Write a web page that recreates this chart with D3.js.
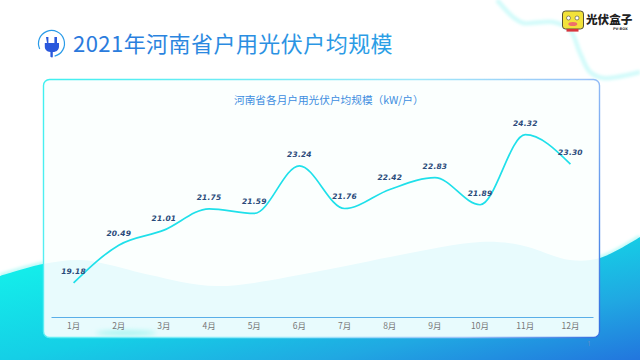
<!DOCTYPE html>
<html><head><meta charset="utf-8">
<script src="https://cdnjs.cloudflare.com/ajax/libs/d3/7.8.5/d3.min.js"></script>
<style>html,body{margin:0;padding:0;background:#fff;overflow:hidden}svg{display:block}</style>
</head><body><svg id="c" width="640" height="360"></svg>
<script>
const months = ["1月","2月","3月","4月","5月","6月","7月","8月","9月","10月","11月","12月"];
const values = [19.18,20.49,21.01,21.75,21.59,23.24,21.76,22.42,22.83,21.89,24.32,23.30];
const valueLabels = ["19.18","20.49","21.01","21.75","21.59","23.24","21.76","22.42","22.83","21.89","24.32","23.30"];
const titleText = "2021年河南省户用光伏户均规模";
const subtitleText = "河南省各月户用光伏户均规模（kW/户）";

const svg = d3.select("#c");
const cjk = "'Noto Sans CJK SC','Noto Sans',sans-serif";
const defs = svg.append("defs");
function grad(id, x1,y1,x2,y2, stops){
  const g = defs.append("linearGradient").attr("id",id).attr("gradientUnits","userSpaceOnUse")
    .attr("x1",x1).attr("y1",y1).attr("x2",x2).attr("y2",y2);
  stops.forEach(s=>g.append("stop").attr("offset",s[0]).attr("stop-color",s[1]));
}
grad("wave",0,276,41,480,[[0,"#14ecea"],[0.4,"#15cfe6"],[0.7,"#20a8e2"],[1,"#2276de"]]);
grad("border",43,79,600,338,[[0,"#3ff0f0"],[0.55,"#9fe8fa"],[0.8,"#9cc4f8"],[1,"#2f6fe0"]]);
grad("titleG",73,0,393,0,[[0,"#2a78dc"],[1,"#2ba0e6"]]);
grad("iconG",40,30,60,60,[[0,"#2a9be8"],[1,"#2a4fd8"]]);
defs.append("filter").attr("id","blur3").attr("x","-30%").attr("y","-200%").attr("width","160%").attr("height","500%")
  .append("feGaussianBlur").attr("stdDeviation",2.5);
defs.append("filter").attr("id","blur1").attr("filterUnits","userSpaceOnUse").attr("x",0).attr("y",0).attr("width",640).attr("height",360)
  .append("feGaussianBlur").attr("stdDeviation",1.4);
defs.append("clipPath").attr("id","cardClip").append("rect").attr("x",43.5).attr("y",79.5).attr("width",556).attr("height",258).attr("rx",6);

// background shapes
const area = d3.line().curve(d3.curveCatmullRom.alpha(0.5));
const waveEdge = [[0,276],[43,264],[80,260],[110,265],[150,275],[217,286],[320,271],[400,255],[480,242],[520,245],[570,260],[600,258],[640,237]];
const waveD = area(waveEdge)+"L640,360L0,360Z";
svg.append("path").attr("d",area(waveEdge)).attr("fill","none").attr("stroke","#c4fbf8").attr("stroke-width",5).attr("filter","url(#blur1)");
svg.append("path").attr("d",waveD).attr("fill","url(#wave)");
const ribbonEdge = [[497,0],[513,17],[523,23],[553,22],[570,30],[580,53],[590,72],[603,78],[640,72]];
svg.append("path").attr("d",area(ribbonEdge)).attr("fill","none").attr("stroke","#d2fbfa").attr("stroke-width",4.5).attr("filter","url(#blur1)");

// card
svg.append("rect").attr("x",43.5).attr("y",79.5).attr("width",556).attr("height",258).attr("rx",6).attr("fill","#fbfffe");
svg.append("path").attr("d",waveD).attr("fill","#e8fbfd").attr("clip-path","url(#cardClip)");
svg.append("ellipse").attr("cx",126).attr("cy",333).attr("rx",30).attr("ry",2.5).attr("fill","#a5f5f0").attr("filter","url(#blur3)").attr("clip-path","url(#cardClip)");
svg.append("rect").attr("x",43.5).attr("y",79.5).attr("width",556).attr("height",258).attr("rx",6)
  .attr("fill","none").attr("stroke","url(#border)").attr("stroke-width",1.4);

// title + icon
svg.append("text").attr("x",73).attr("y",52).attr("font-family",cjk).attr("font-size",22).attr("font-weight",400)
  .attr("letter-spacing",0.45).attr("fill","url(#titleG)").text(titleText);
const icon = svg.append("g");
icon.append("path").attr("d",d3.arc()({innerRadius:12.4,outerRadius:13.6,startAngle:-2.0,endAngle:2.9})).attr("transform","translate(51.5,43.5)").attr("fill","url(#iconG)");
icon.append("path").attr("d","M46,37h2.4v6h6v-6H57v6h2v3.5c0,3.4-2.6,5.5-6,5.5h-.2v4.5c0,1-.6,1.2-1.4.8l-1,-.6V52c-3.6-.2-5.6-2.3-5.6-5.5V43h2.2z").attr("fill","#2a58dc");

// logo
const logo = svg.append("g");
logo.append("rect").attr("x",562.5).attr("y",11).attr("width",21).attr("height",18).attr("rx",3).attr("fill","#f2e23a").attr("stroke","#55513a").attr("stroke-width",1);
logo.append("circle").attr("cx",568.5).attr("cy",18).attr("r",2).attr("fill","#fff").attr("stroke","#444").attr("stroke-width",.6);
logo.append("circle").attr("cx",577).attr("cy",18).attr("r",2).attr("fill","#fff").attr("stroke","#444").attr("stroke-width",.6);
logo.append("ellipse").attr("cx",572.8).attr("cy",24).attr("rx",4.5).attr("ry",2).attr("fill","#ee6f6a");
logo.append("rect").attr("x",566.5).attr("y",29).attr("width",12).attr("height",2.6).attr("fill","#d8343c");
logo.append("text").attr("x",586).attr("y",24).attr("font-family",cjk).attr("font-size",11.6).attr("font-weight",900).attr("fill","#222").text("光伏盒子");
logo.append("text").attr("x",613).attr("y",30).attr("font-family","'DejaVu Sans'").attr("font-size",3.5).attr("font-weight",700).attr("fill","#333").text("PV-BOX");

// subtitle
svg.append("text").attr("x",234).attr("y",103.5).attr("font-family",cjk).attr("font-size",10.67).attr("fill","#3d8de0").text(subtitleText);

// chart
const x = d3.scaleBand().domain(months).range([51,593]);
const y = d3.scaleLinear().domain([18,25]).range([317,115]);
const cx = m => x(m)+x.bandwidth()/2;
const pts = months.map((m,i)=>({m,v:values[i],l:valueLabels[i]}));
const axis = d3.axisBottom(x).tickSize(0).tickPadding(6);
const ax = svg.append("g").attr("transform","translate(0,317)").call(axis);
ax.select(".domain").attr("stroke","#5aaee8").attr("stroke-width",1);
ax.selectAll("text").attr("font-family",cjk).attr("font-size",8.5).attr("fill","#777");

const line = d3.line().x(d=>cx(d.m)).y(d=>y(d.v)).curve(d3.curveMonotoneX);
svg.append("path").datum(pts).attr("d",line).attr("fill","none").attr("stroke","#1fe0ea").attr("stroke-width",1.7);
svg.selectAll("text.val").data(pts).join("text").attr("class","val")
  .attr("x",d=>cx(d.m)).attr("y",d=>y(d.v)-9).attr("text-anchor","middle").attr("letter-spacing",0.2)
  .attr("font-family","'DejaVu Sans'").attr("font-style","italic").attr("font-weight",700).attr("font-size",7.5).attr("fill","#2a4a7a").text(d=>d.l);

svg.append("text").attr("x",589).attr("y",346).attr("text-anchor","middle").attr("font-family","'Noto Sans'").attr("font-size",7).attr("fill","#5f8fc8").text("1");
</script></body></html>
